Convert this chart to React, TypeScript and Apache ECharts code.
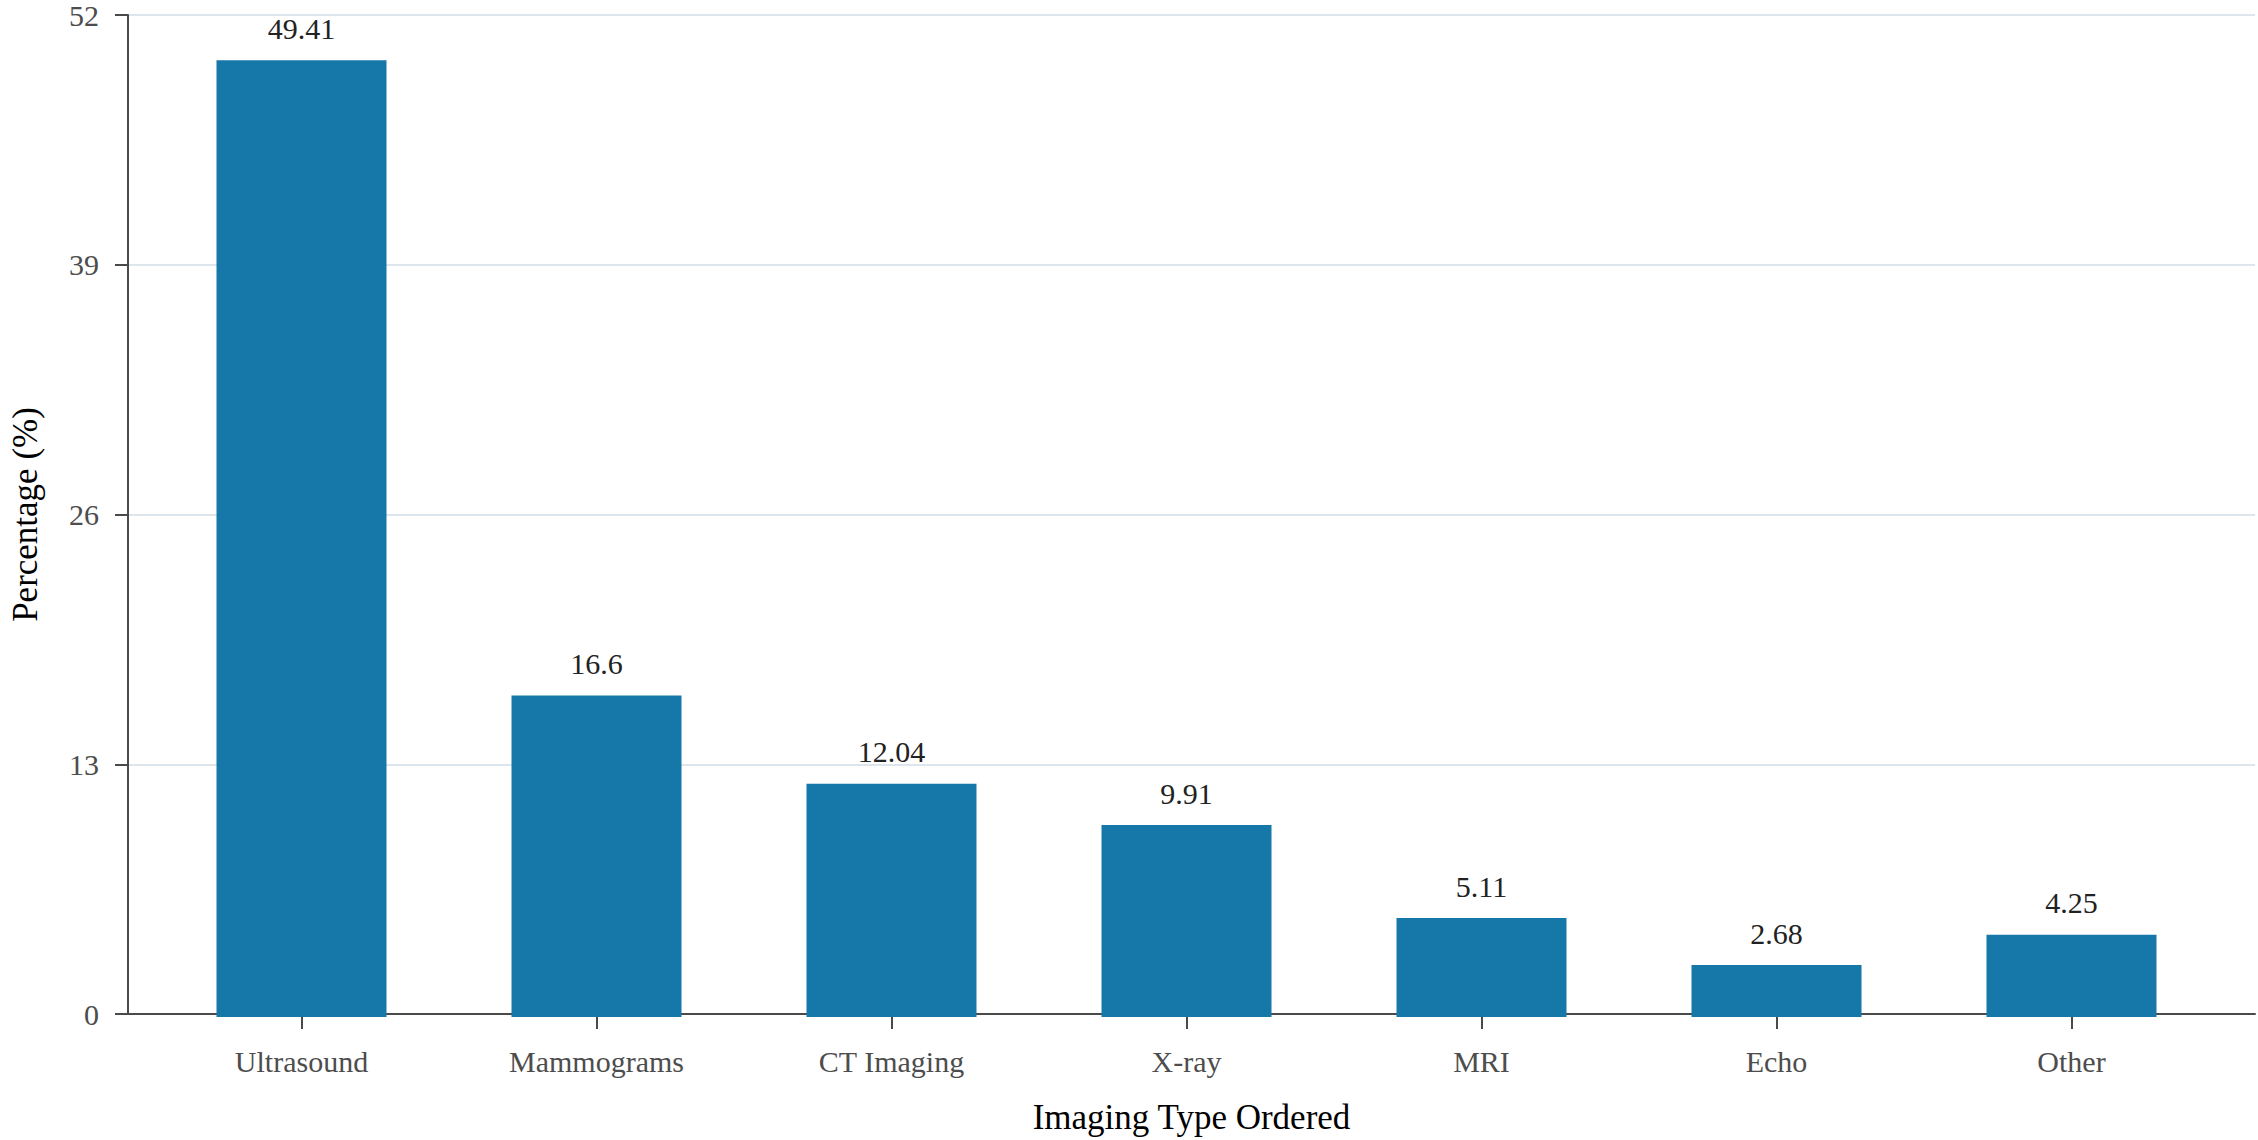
import React, { useEffect, useRef } from "react";
import * as echarts from "echarts";

const categories = ["Ultrasound", "Mammograms", "CT Imaging", "X-ray", "MRI", "Echo", "Other"];
const values = [49.41, 16.6, 12.04, 9.91, 5.11, 2.68, 4.25];
const yMax = 52;
const yStep = 13;

const FONT = "Liberation Serif";

export default function App() {
  const ref = useRef<HTMLDivElement>(null);
  useEffect(() => {
    if (!ref.current) return;
    const chart = echarts.init(ref.current, undefined, { renderer: "svg" });
    const top = 10;
    const bottom = 123;
    chart.setOption({
      animation: false,
      backgroundColor: "#ffffff",
      grid: [
        { left: 119, right: 3, top, bottom },
        { left: 154, right: 39, top, bottom },
      ],
      xAxis: [
        {
          gridIndex: 0,
          type: "value",
          min: 0,
          max: 1,
          axisLine: { show: true, lineStyle: { color: "#4a4a4a", width: 2 } },
          axisTick: { show: false },
          axisLabel: { show: false },
          splitLine: { show: false },
          name: "Imaging Type Ordered",
          nameLocation: "middle",
          nameGap: 86,
          nameTextStyle: { fontFamily: FONT, fontSize: 35, color: "#000000", verticalAlign: "top" },
        },
        {
          gridIndex: 1,
          type: "category",
          data: categories,
          boundaryGap: true,
          axisLine: { show: false },
          axisTick: { show: true, alignWithLabel: true, length: 12, lineStyle: { color: "#4a4a4a", width: 2 } },
          axisLabel: { fontFamily: FONT, fontSize: 30, color: "#4d4d4d", margin: 29, lineHeight: 30 },
          splitLine: { show: false },
        },
      ],
      yAxis: [
        {
          gridIndex: 0,
          type: "value",
          min: 0,
          max: yMax,
          interval: yStep,
          axisLine: { show: true, lineStyle: { color: "#4a4a4a", width: 2 } },
          axisTick: { show: true, length: 13, lineStyle: { color: "#4a4a4a", width: 2 } },
          axisLabel: { fontFamily: FONT, fontSize: 30, color: "#4d4d4d", margin: 29 },
          splitLine: { show: true, lineStyle: { color: "#dde6ed", width: 2 } },
          name: "Percentage (%)",
          nameLocation: "middle",
          nameRotate: 90,
          nameGap: 85,
          nameTextStyle: { fontFamily: FONT, fontSize: 35, color: "#000000" },
        },
        {
          gridIndex: 1,
          type: "value",
          min: 0,
          max: yMax,
          interval: yStep,
          show: false,
        },
      ],
      series: [
        {
          type: "bar",
          xAxisIndex: 1,
          yAxisIndex: 1,
          data: values,
          barWidth: 170,
          itemStyle: { color: "#1578a8" },
          label: {
            show: true,
            position: "top",
            distance: 17,
            fontFamily: FONT,
            fontSize: 30,
            lineHeight: 30,
            color: "#222222",
          },
        },
      ],
    });
    return () => chart.dispose();
  }, []);
  return (
    <div
      ref={ref}
      style={{ position: "fixed", left: 0, top: 0, width: 2258, height: 1140, background: "#fff" }}
    />
  );
}
